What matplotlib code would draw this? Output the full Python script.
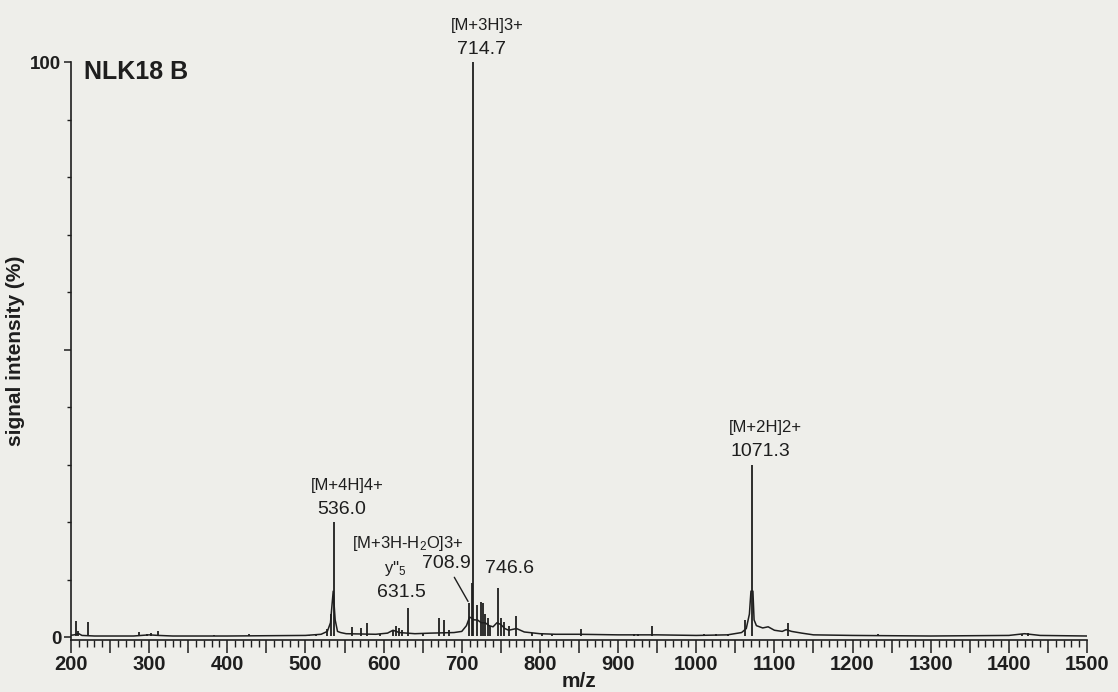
import matplotlib
matplotlib.use('Agg')
import matplotlib.pyplot as plt
from matplotlib.ticker import MultipleLocator, FixedLocator, FuncFormatter

plt.rcParams['font.family'] = ['Liberation Sans', 'DejaVu Sans']
plt.rcParams['mathtext.fontset'] = 'custom'
plt.rcParams['mathtext.rm'] = 'Liberation Sans'
plt.rcParams['mathtext.it'] = 'Liberation Sans'

# low-level profile of the spectrum (m/z, % intensity)
trace_mz = [198, 204, 210, 214, 230, 280, 300, 312, 330, 400, 500, 520,
            528, 532, 535.5, 538, 541, 545, 552, 590, 605, 612, 620, 640,
            660, 690, 700, 706, 710, 716, 720, 725, 730, 735, 740, 745,
            750, 755, 760, 770, 780, 800, 820, 850, 900, 950, 1000, 1040,
            1058, 1064, 1068, 1070, 1072.5, 1074, 1077, 1085, 1092, 1100,
            1110, 1115, 1122, 1135, 1150, 1200, 1300, 1400, 1420, 1440, 1500]
trace_int = [0.3, 0.4, 0.6, 0.3, 0.2, 0.2, 0.4, 0.3, 0.2, 0.2, 0.3, 0.5,
             1.0, 2.5, 8.0, 3.0, 1.0, 0.8, 0.6, 0.5, 0.7, 1.2, 0.8, 0.6,
             0.7, 0.8, 1.0, 2.0, 3.5, 3.0, 3.0, 2.5, 2.5, 2.0, 1.8, 2.5,
             2.2, 1.5, 1.2, 1.5, 0.9, 0.6, 0.5, 0.5, 0.4, 0.4, 0.3, 0.4,
             0.8, 1.5, 4.0, 8.0, 8.0, 3.0, 2.0, 1.6, 1.8, 1.2,
             1.0, 1.3, 1.0, 0.7, 0.4, 0.3, 0.2, 0.3, 0.6, 0.3, 0.2]

# centroid peaks (m/z, % intensity)
peak_mz = [206, 209, 222, 287, 297, 303, 311, 383, 428, 505, 514, 528,
           533, 536.0, 560, 571, 579, 595, 612, 616, 620, 624, 631.5, 650,
           671, 677, 684, 708.9, 712.5, 714.7, 719.5, 724, 727, 730, 733,
           736, 746.6, 750, 754, 760, 769, 790, 803, 815, 853, 920, 925,
           944, 1010, 1025, 1040, 1062, 1071.3, 1117, 1232, 1417, 1425,
           1456]
peak_int = [2.8, 1.0, 2.7, 0.9, 0.6, 0.7, 1.1, 0.3, 0.5, 0.4, 0.6, 1.5,
            4.0, 20.0, 1.8, 1.6, 2.4, 0.6, 1.2, 2.0, 1.6, 1.2, 5.0, 0.6,
            3.3, 3.0, 1.2, 6.0, 9.4, 100.0, 5.6, 6.1, 6.0, 4.1, 3.3,
            2.0, 8.5, 3.3, 2.6, 2.0, 3.6, 0.8, 0.7, 0.6, 1.5, 0.6, 0.5,
            2.0, 0.5, 0.5, 0.5, 3.0, 30.0, 2.4, 0.5, 0.5, 0.7,
            0.3]

# labelled charge states
ion_names = ['[M+4H]4+', '[M+3H]3+', '[M+2H]2+']
ion_mz = [536.0, 714.7, 1071.3]
ion_int = [20.0, 100.0, 30.0]

ink = '#1e1e1e'
fig = plt.figure(figsize=(11.18, 6.92), dpi=100, facecolor='#eeeeea')
ax = fig.add_axes([0.0635, 0.0751, 0.9088, 0.8353], facecolor='#eeeeea')

ax.plot(trace_mz, trace_int, color=ink, lw=1.1)
ax.vlines(peak_mz, 0.2, peak_int, color=ink, lw=1.3)

ax.set_xlim(200, 1500)
ax.set_ylim(-0.5, 100)

# charge-state labels above the main peaks
for name, mz, inten in zip(ion_names, ion_mz, ion_int):
    ax.annotate(f'{mz:.1f}', xy=(mz, inten), xytext=(6, 3),
                textcoords='offset points', ha='center', va='bottom',
                fontsize=14, color=ink)
    ax.annotate(name, xy=(mz, inten), xytext=(10, 21),
                textcoords='offset points', ha='center', va='bottom',
                fontsize=12, color=ink)

ax.annotate('708.9', xy=(708.9, 6.0), xytext=(-16, 22),
            textcoords='offset points', ha='center', va='bottom',
            fontsize=14, color=ink,
            arrowprops=dict(arrowstyle='-', color=ink, lw=1,
                            shrinkA=2, shrinkB=1))
ax.annotate('[M+3H-H$_2$O]3+', xy=(708.9, 6.0), xytext=(-44, 36),
            textcoords='offset points', ha='center', va='bottom',
            fontsize=12, color=ink)
ax.annotate('631.5', xy=(631.5, 5.0), xytext=(-5, 5),
            textcoords='offset points', ha='center', va='bottom',
            fontsize=14, color=ink)
ax.annotate("y''$_5$", xy=(631.5, 5.0), xytext=(-9, 22),
            textcoords='offset points', ha='center', va='bottom',
            fontsize=12, color=ink)
ax.annotate('746.6', xy=(746.6, 8.5), xytext=(8, 8),
            textcoords='offset points', ha='center', va='bottom',
            fontsize=14, color=ink)

ax.text(0.013, 1.003, 'NLK18 B', transform=ax.transAxes, ha='left',
        va='top', fontsize=18, fontweight='bold', color=ink)

ax.spines['top'].set_visible(False)
ax.spines['right'].set_visible(False)
for side in ['left', 'bottom']:
    ax.spines[side].set_color(ink)
    ax.spines[side].set_linewidth(1.2)
ax.spines['left'].set_bounds(-0.5, 100)

ax.xaxis.set_major_locator(MultipleLocator(50))
ax.xaxis.set_minor_locator(MultipleLocator(10))
ax.xaxis.set_major_formatter(
    FuncFormatter(lambda v, p: f'{v:.0f}' if v % 100 == 0 else ''))
ax.tick_params(axis='x', which='major', length=9, width=1.1, colors=ink,
               labelsize=14.5, pad=2)
ax.tick_params(axis='x', which='minor', length=5, width=1.0, colors=ink)

ax.yaxis.set_major_locator(FixedLocator([0, 50, 100]))
ax.yaxis.set_minor_locator(MultipleLocator(10))
ax.yaxis.set_major_formatter(
    FuncFormatter(lambda v, p: f'{v:.0f}' if v in (0, 100) else ''))
ax.tick_params(axis='y', which='major', length=5, width=1.1, colors=ink,
               labelsize=13.5, pad=2)
ax.tick_params(axis='y', which='minor', length=3, width=1.0, colors=ink)
for lab in ax.get_xticklabels() + ax.get_yticklabels():
    lab.set_fontweight('bold')

ax.set_xlabel('m/z', fontsize=15, fontweight='bold', color=ink, labelpad=-2)
ax.set_ylabel('signal intensity (%)', fontsize=15, fontweight='bold',
              color=ink)
ax.yaxis.set_label_coords(-0.045, 0.5)

fig.savefig('out.png', dpi=100, facecolor=fig.get_facecolor())
